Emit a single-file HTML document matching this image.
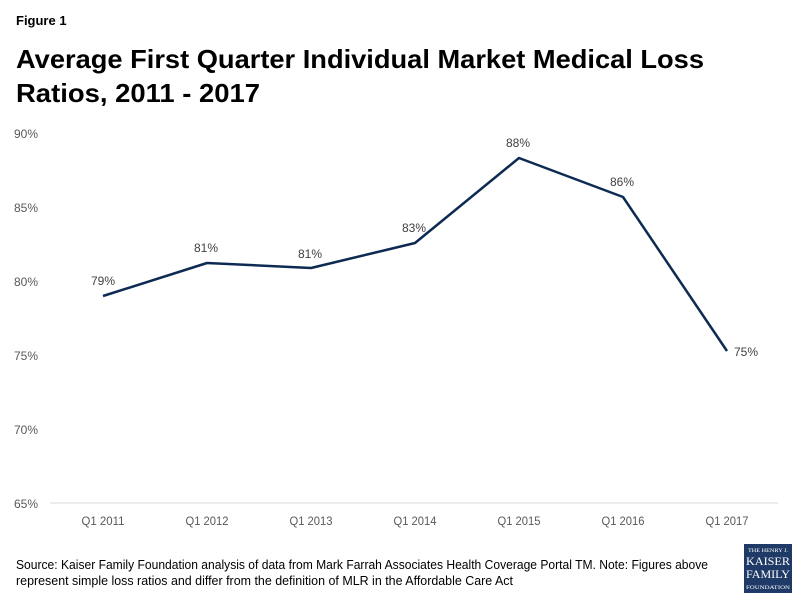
<!DOCTYPE html>
<html><head><meta charset="utf-8"><style>
body{margin:0;background:#fff;}
svg{display:block;font-family:"Liberation Sans",sans-serif;}
</style></head><body>
<svg width="800" height="600" viewBox="0 0 800 600">
<text x="16" y="25" font-size="13" font-weight="bold" fill="#000">Figure 1</text>
<text x="16" y="68" font-size="26" font-weight="bold" fill="#000" textLength="688" lengthAdjust="spacingAndGlyphs">Average First Quarter Individual Market Medical Loss</text>
<text x="16" y="102" font-size="26" font-weight="bold" fill="#000" textLength="244" lengthAdjust="spacingAndGlyphs">Ratios, 2011 - 2017</text>
<g font-size="12" fill="#595959" text-anchor="end">
<text x="38" y="138">90%</text>
<text x="38" y="212">85%</text>
<text x="38" y="286">80%</text>
<text x="38" y="360">75%</text>
<text x="38" y="434">70%</text>
<text x="38" y="508">65%</text>
</g>
<line x1="50" y1="503" x2="778" y2="503" stroke="#d9d9d9" stroke-width="1"/>
<g font-size="12" fill="#595959" text-anchor="middle">
<text x="103" y="525" textLength="43" lengthAdjust="spacingAndGlyphs">Q1 2011</text>
<text x="207" y="525" textLength="43" lengthAdjust="spacingAndGlyphs">Q1 2012</text>
<text x="311" y="525" textLength="43" lengthAdjust="spacingAndGlyphs">Q1 2013</text>
<text x="415" y="525" textLength="43" lengthAdjust="spacingAndGlyphs">Q1 2014</text>
<text x="519" y="525" textLength="43" lengthAdjust="spacingAndGlyphs">Q1 2015</text>
<text x="623" y="525" textLength="43" lengthAdjust="spacingAndGlyphs">Q1 2016</text>
<text x="727" y="525" textLength="43" lengthAdjust="spacingAndGlyphs">Q1 2017</text>
</g>
<polyline points="103,296 207,263 311,268 415,243 519,158 623,197 727,351" fill="none" stroke="#0d2b52" stroke-width="2.5" stroke-linejoin="round"/>
<g font-size="12" fill="#404040" text-anchor="middle">
<text x="103" y="285">79%</text>
<text x="206" y="252">81%</text>
<text x="310" y="258">81%</text>
<text x="414" y="232">83%</text>
<text x="518" y="147">88%</text>
<text x="622" y="186">86%</text>
<text x="746" y="356">75%</text>
</g>
<g font-size="13" fill="#000">
<text x="16" y="569" textLength="692" lengthAdjust="spacingAndGlyphs">Source: Kaiser Family Foundation analysis of data from Mark Farrah Associates Health Coverage Portal TM. Note: Figures above</text>
<text x="16" y="585" textLength="497" lengthAdjust="spacingAndGlyphs">represent simple loss ratios and differ from the definition of MLR in the Affordable Care Act</text>
</g>
<rect x="744" y="544" width="48" height="49" fill="#1f3a66"/>
<g fill="#fff" text-anchor="middle" font-family="Liberation Serif,serif">
<text x="768" y="552" font-size="5" textLength="40" lengthAdjust="spacingAndGlyphs">THE HENRY J.</text>
<text x="768" y="565" font-size="12" textLength="44" lengthAdjust="spacingAndGlyphs">KAISER</text>
<text x="768" y="578" font-size="12" textLength="44" lengthAdjust="spacingAndGlyphs">FAMILY</text>
<text x="768" y="589" font-size="5" textLength="44" lengthAdjust="spacingAndGlyphs">FOUNDATION</text>
</g>
</svg>
</body></html>
